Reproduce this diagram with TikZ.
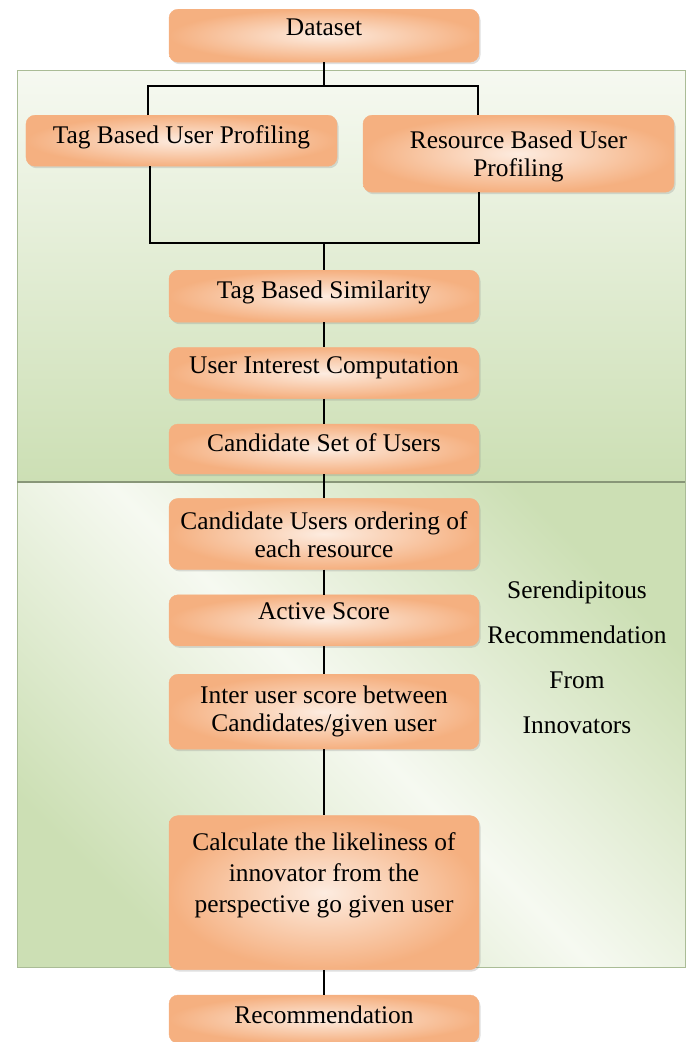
\documentclass[tikz,border=0pt]{standalone}
\usepackage{fontspec}
\setmainfont{Liberation Serif}
\usetikzlibrary{positioning, shadows}

\definecolor{boxdark}{RGB}{245,176,128}
\definecolor{boxlight}{RGB}{253,236,224}
\definecolor{panelpale}{RGB}{246,249,241}
\definecolor{panelgreen}{RGB}{204,223,180}
\definecolor{panelline}{RGB}{170,188,150}

\begin{document}
\begin{tikzpicture}[x=1bp, y=1bp, node distance=25bp, font=\fontsize{25.5}{28}\selectfont,
  box/.style={rounded corners=9bp, align=center, inner xsep=3bp, inner ysep=0pt, minimum width=310bp,
    inner color=boxlight, outer color=boxdark, draw=boxdark,
    drop shadow={opacity=0.25, shadow xshift=1.5bp, shadow yshift=-2bp}},
  wire/.style={line width=1.6bp, black},
  panel/.style={draw=panelline, line width=0.8bp}]
\useasboundingbox (0,0) rectangle (689,-1042);
\path[panel, top color=panelpale, bottom color=panelgreen] (17,-70) rectangle (685,-482);
\path[panel, top color=panelgreen, bottom color=panelgreen, middle color=panelpale, shading angle=-45] (17,-482) rectangle (685,-967);
\draw[panelline!80!black, line width=1.5bp] (17,-482) -- (685,-482);

\node[box, anchor=north, text height=26bp, text depth=27bp] (data) at (324,-9) {Dataset};
\node[box, anchor=north, minimum width=311bp, text height=28bp, text depth=23bp] (tagp) at (181.5,-115) {Tag Based User Profiling};
\node[box, anchor=north, minimum width=311bp, text height=61bp, text depth=16bp] (resp) at (518.5,-115) {Resource Based User\\ Profiling};
\node[box, anchor=north, text height=28bp, text depth=24bp] (sim) at (324,-270) {Tag Based Similarity};
\node[box, below=of sim, text height=26bp, text depth=25bp] (uic) {User Interest Computation};
\node[box, below=of uic, text height=27bp, text depth=23bp] (cand) {Candidate Set of Users};
\node[box, below=24bp of cand, text height=59bp, text depth=12bp] (order) {Candidate Users ordering of\\ each resource};
\node[box, below=of order, text height=25bp, text depth=26bp] (active) {Active Score};
\node[box, below=28bp of active, text height=57bp, text depth=18bp] (inter) {Inter user score between\\ Candidates/given user};
\node[box, below=66bp of inter, text height=97bp, text depth=57bp, font=\fontsize{25.5}{31}\selectfont] (calc) {Calculate the likeliness of\\ innovator from the\\ perspective go given user};
\node[box, below=of calc, text height=28bp, text depth=20bp] (rec) {Recommendation};
\node[anchor=base, align=center, font=\fontsize{25.5}{45}\selectfont] (side) at (577,-733) {Serendipitous\\ Recommendation\\ From\\ Innovators};

\coordinate (splitL) at (148,-86);
\coordinate (splitR) at (478,-86);
\coordinate (joinL) at (150,-243);
\coordinate (joinR) at (479,-243);
\draw[wire] (data) -- (data.south |- splitL);
\draw[wire] (tagp.north -| splitL) -- (splitL) -- (splitR) -- (resp.north -| splitR);
\draw[wire] (tagp.south -| joinL) -- (joinL) -- (joinR) -- (resp.south -| joinR);
\draw[wire] (sim.north |- joinL) -- (sim);
\draw[wire] (sim) -- (uic);
\draw[wire] (uic) -- (cand);
\draw[wire] (cand) -- (order);
\draw[wire] (order) -- (active);
\draw[wire] (active) -- (inter);
\draw[wire] (inter) -- (calc);
\draw[wire] (calc) -- (rec);
\end{tikzpicture}
\end{document}
